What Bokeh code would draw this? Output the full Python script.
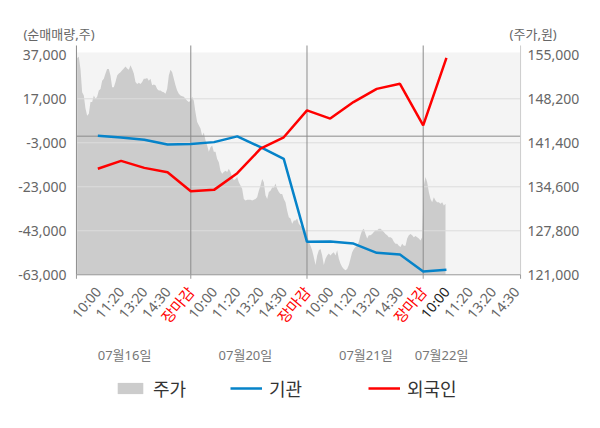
import numpy as np
from bokeh.plotting import figure
from bokeh.models import (Range1d, ColumnDataSource, LabelSet, Label, Legend, LegendItem)
from bokeh.core.properties import value
from bokeh.embed import file_html
from bokeh.resources import INLINE

FONT = "'Noto Sans', 'Noto Sans CJK KR'"
KFONT = "Noto Sans CJK KR"

# ---- data ----
slot_labels = ["10:00", "11:20", "13:20", "14:30", "장마감"] * 3 + ["10:00", "11:20", "13:20", "14:30"]
slot_pos = list(range(1, 20))
date_labels = ["07월16일", "07월20일", "07월21일", "07월22일"]
date_pos = [2.15, 7.35, 12.53, 15.79]
day_breaks = [5, 10, 15]

line_slots = list(range(1, 17))
institution = [200, -600, -1600, -3800, -3500, -2700, -100, -5000, -10300,
               -48000, -47900, -48800, -53000, -53800, -61500, -60700]
foreign = [-14800, -11200, -14400, -16400, -25000, -24400, -16800, -5700, -500,
           11700, 8000, 15500, 21500, 23800, 4900, 35600]

price = [
    154500, 154700, 152800, 149200, 148700, 146700, 145600, 145900, 147700, 147700,
    148700, 148200, 148500, 149500, 149700, 151000, 151300, 152100, 152800, 152800,
    151800, 150000, 150000, 150800, 151800, 152100, 152300, 152600, 152900, 153200,
    152900, 152700, 153400, 152800, 152100, 150800, 150500, 150700, 150500, 150800,
    151300, 151300, 151400, 151000, 151300, 150300, 150400, 150300, 149700, 149500,
    149500, 149300, 149200, 149000, 149700, 151800, 152700, 152300, 151300, 150300,
    149500, 149000, 148700, 148600, 148500,
    148200, 147900, 147700, 147900, 148500, 147900, 146100, 144600, 144100, 143600,
    142500, 143000, 141800, 141000, 140000, 140700, 141000, 140000, 140000, 138900,
    138400, 137100, 136600, 136900, 137100, 136900, 137400, 136900, 136100, 135600,
    135800, 136100, 135300, 134800, 134300, 132700, 132500, 132600, 132600, 132600,
    132500, 132600, 132700, 133000, 134000, 134800, 135800, 135300, 133300, 132700,
    133800, 134000, 134500, 134500, 135100, 134300, 133800, 133500, 133500, 132700,
    132200, 130900, 129900, 129700, 128900, 129400, 129400, 129700, 128900,
    128600, 128400, 128400, 127900, 127300, 126100, 125500, 124800, 123700, 122500,
    124000, 124800, 125000, 124000, 122500, 123500, 124000, 124300, 124000, 124300,
    124500, 124000, 124800, 123500, 122700, 122200, 121900, 121700, 121900, 122500,
    123500, 124500, 125000, 125300, 125500, 126100, 127100, 127900, 128100, 127300,
    126600, 127100, 127100, 127300, 127600, 127900, 127900, 128100, 128100, 127900,
    127600, 127300, 127100, 126800, 126800, 126600, 126100, 125800, 125800, 125500,
    125300, 125800, 125500, 125500, 126600, 127100, 127300, 127100, 126800, 127000,
    126800, 126600, 126300, 126800, 134800, 136100, 135300, 133800, 132700, 132200,
    133000, 132500, 132200, 132200, 132000, 132200, 131700, 132000,
]
price_start, price_end = 0.11, 15.96

left_ticks = [-63000, -43000, -23000, -3000, 17000, 37000]
right_ticks = [121000, 127800, 134600, 141400, 148200, 155000]
grid_ticks = [-43000, -23000, -3000, 17000]

# ---- layout constants (whole canvas is the frame) ----
W, H = 600, 428
X_START, X_END = -3.188, 22.629          # canvas x range
AX_L, AX_R = 0.08, 19.19                 # plot area left / right edges
Y_START, Y_END = -132860, 61670          # canvas range, left scale
P_START, P_END = 97246, 163393           # canvas range, price scale
Y_BOT = -63000                           # plot area bottom (left scale)
Y_TOP = 41220                            # top of axis / separator lines
BG_TOP = 38050                           # top of shaded panel
P_BOT = 121000

p = figure(width=W, height=H, x_range=Range1d(X_START, X_END), y_range=Range1d(Y_START, Y_END),
           output_backend="svg", toolbar_location=None,
           min_border_left=0, min_border_right=0, min_border_top=0, min_border_bottom=0)
p.outline_line_color = None
p.background_fill_color = "white"
p.border_fill_color = "white"
p.extra_y_ranges = {"price": Range1d(P_START, P_END)}
p.xaxis.visible = False
p.yaxis.visible = False
p.xgrid.visible = False
p.ygrid.visible = False

# shaded panel
p.quad(left=[AX_L], right=[AX_R], bottom=[Y_BOT], top=[BG_TOP],
       fill_color="#f4f4f4", line_color=None, level="image")

# price area
px = np.linspace(price_start, price_end, len(price))
area_src = ColumnDataSource(dict(x=px, y1=[P_BOT] * len(price), y2=price))
r_area = p.varea(x="x", y1="y1", y2="y2", source=area_src, y_range_name="price",
                 fill_color="#cccccc", level="image")

# grid lines
p.segment(x0=[AX_L] * len(grid_ticks), y0=grid_ticks, x1=[AX_R] * len(grid_ticks), y1=grid_ticks,
          line_color="#dcdcdc", line_width=1, level="underlay")
# zero line
p.segment(x0=[AX_L], y0=[0], x1=[AX_R], y1=[0], line_color="#8c8c8c", line_width=1, level="underlay")
# day separators
p.segment(x0=day_breaks, y0=[Y_BOT] * 3, x1=day_breaks, y1=[Y_TOP] * 3,
          line_color="#8c8c8c", line_width=1, level="underlay")
# axis lines
p.segment(x0=[AX_L], y0=[Y_BOT], x1=[AX_L], y1=[Y_TOP], line_color="#8c8c8c", line_width=1)
p.segment(x0=[AX_R], y0=[Y_BOT], x1=[AX_R], y1=[Y_TOP], line_color="#cccccc", line_width=1)
p.segment(x0=[AX_L], y0=[Y_BOT], x1=[AX_R], y1=[Y_BOT], line_color="#999999", line_width=1)
# bottom tick marks
p.ray(x=[AX_L, 5, 10, 15, AX_R], y=[Y_BOT] * 5, length=4, length_units="screen",
      angle=-90, angle_units="deg", line_color="#999999", line_width=1)

# lines
r_inst = p.line(line_slots, institution, line_color="#0683c9", line_width=2.5)
r_for = p.line(line_slots, foreign, line_color="#ff0000", line_width=2.5)

# left tick labels
lsrc = ColumnDataSource(dict(x=[AX_L] * len(left_ticks), y=left_ticks,
                             text=[f"{v:,}" for v in left_ticks]))
p.add_layout(LabelSet(x="x", y="y", text="text", source=lsrc, x_offset=-10,
                      text_align="right", text_baseline="middle", text_color="#666666",
                      text_font=value(FONT), text_font_size=value("14px")))
# right tick labels
rsrc = ColumnDataSource(dict(x=[AX_R] * len(right_ticks), y=right_ticks,
                             text=[f"{v:,}" for v in right_ticks]))
p.add_layout(LabelSet(x="x", y="y", text="text", source=rsrc, y_range_name="price", x_offset=7,
                      text_align="left", text_baseline="middle", text_color="#666666",
                      text_font=value(FONT), text_font_size=value("14px")))

# slot labels
colors, sizes = [], []
for i, t in enumerate(slot_labels):
    if t == "장마감":
        colors.append("#ff0000")
        sizes.append("15px")
    elif i == 15:
        colors.append("#222222")
        sizes.append("14px")
    else:
        colors.append("#666666")
        sizes.append("14px")
tick_src = ColumnDataSource(dict(x=slot_pos, y=[Y_BOT] * len(slot_pos), text=slot_labels,
                                 color=colors, size=sizes))
p.add_layout(LabelSet(x="x", y="y", text="text", source=tick_src, angle=50, angle_units="deg",
                      text_align="right", text_baseline="middle", y_offset=-14,
                      text_color="color", text_font=value(FONT), text_font_size="size"))

# date labels
date_src = ColumnDataSource(dict(x=date_pos, y=[Y_BOT] * len(date_pos), text=date_labels))
p.add_layout(LabelSet(x="x", y="y", text="text", source=date_src, text_align="center",
                      text_baseline="middle", y_offset=-80, text_color="#777777",
                      text_font=value(FONT), text_font_size=value("13px")))

# axis titles
p.add_layout(Label(x=AX_L, y=Y_TOP, x_offset=-53, y_offset=11, text="(순매매량,주)",
                   text_align="left", text_baseline="middle", text_font=FONT,
                   text_font_size="13px", text_color="#666666"))
p.add_layout(Label(x=AX_R, y=Y_TOP, x_offset=-11, y_offset=11, text="(주가,원)",
                   text_align="left", text_baseline="middle", text_font=FONT,
                   text_font_size="13px", text_color="#666666"))

# legends
def add_legend(name, renderer, vx):
    lg = Legend(items=[LegendItem(label=name, renderers=[renderer])], location=(vx, 27),
                orientation="horizontal", padding=0, margin=0, border_line_color=None,
                background_fill_alpha=0, glyph_width=32, glyph_height=14, label_standoff=7,
                label_height=24, label_text_font=KFONT, label_text_font_size="18px",
                label_text_color="#333333")
    p.add_layout(lg, "center")

add_legend("주가", r_area, 114)
add_legend("기관", r_inst, 230)
add_legend("외국인", r_for, 368)

open("out.html", "w").write(file_html(p, INLINE))
